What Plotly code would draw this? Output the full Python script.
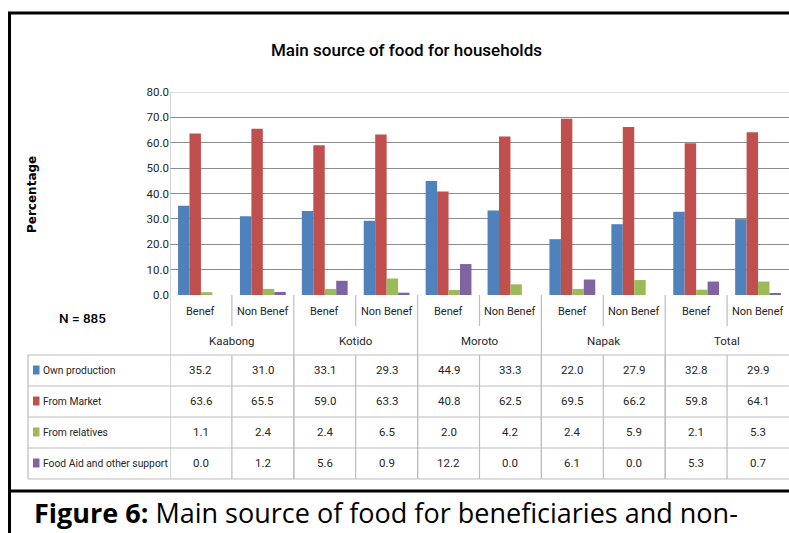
import plotly.graph_objects as go

# ---- data -------------------------------------------------------------
districts = ["Kaabong", "Kotido", "Moroto", "Napak", "Total"]
groups = ["Benef", "Non Benef"]
series_names = ["Own production", "From Market", "From relatives",
                "Food Aid and other support"]
own_production = [35.2, 31.0, 33.1, 29.3, 44.9, 33.3, 22.0, 27.9, 32.8, 29.9]
from_market = [63.6, 65.5, 59.0, 63.3, 40.8, 62.5, 69.5, 66.2, 59.8, 64.1]
from_relatives = [1.1, 2.4, 2.4, 6.5, 2.0, 4.2, 2.4, 5.9, 2.1, 5.3]
food_aid = [0.0, 1.2, 5.6, 0.9, 12.2, 0.0, 6.1, 0.0, 5.3, 0.7]
y_ticks = [0, 10, 20, 30, 40, 50, 60, 70, 80]
sample_note = "N = 885"

series_values = [own_production, from_market, from_relatives, food_aid]
colors = ["#4F81BD", "#C0504D", "#9BBB59", "#8064A2"]

# ---- page geometry ----------------------------------------------------
W, H = 789, 533
FONT = "Roboto, Liberation Sans, sans-serif"
TXT = "#262626"


def X(px):
    return min(max(px / W, 0.0), 1.0)


def Y(py):
    return min(max(1 - py / H, 0.0), 1.0)


def label(x, y, text, size, xref="paper", xanchor="center", yanchor="middle",
          color=TXT, family=FONT, angle=0, weight="normal"):
    return dict(x=x, y=y, xref=xref, yref="paper", text=text, showarrow=False,
                xanchor=xanchor, yanchor=yanchor, textangle=angle,
                font=dict(family=family, size=size, color=color, weight=weight))


def hline(y, x0, x1, color, width):
    return dict(type="line", xref="paper", yref="paper", x0=x0, x1=x1,
                y0=y, y1=y, line=dict(color=color, width=width))


def vline_x(xd, y0, y1, color, width):
    return dict(type="line", xref="x", yref="paper", x0=xd, x1=xd,
                y0=y0, y1=y1, line=dict(color=color, width=width))


n_cols = len(districts) * len(groups)
col_pos = list(range(n_cols))
col_labels = [g for _ in districts for g in groups]

fig = go.Figure()
for name, vals, col in zip(series_names, series_values, colors):
    fig.add_trace(go.Bar(x=col_pos, y=vals, name=name, marker_color=col,
                         marker_line_width=0, showlegend=False))

shapes = []
annotations = []
grid_col = "#bdbdbd"

# outer frames (chart box and caption box)
shapes.append(hline(Y(13), X(8), 1, "black", 3))
shapes.append(dict(type="line", xref="paper", yref="paper", x0=X(9.5), x1=X(9.5),
                   y0=0, y1=Y(12), line=dict(color="black", width=3)))
shapes.append(hline(Y(491), X(8), 1, "black", 3))

# plot area top border
shapes.append(dict(type="line", xref="x", yref="y", x0=-0.5, x1=n_cols - 0.5,
                   y0=80, y1=80, line=dict(color="#d4d4d4", width=1.5)))
# value axis line continues down through the table
shapes.append(vline_x(-0.5, Y(479), Y(92), grid_col, 1.2))

for i in range(1, n_cols):
    xb = i - 0.5
    if i % 2 == 1:
        # separator between Benef / Non Benef labels
        shapes.append(vline_x(xb, Y(326), Y(295), grid_col, 1.2))
    else:
        # separator between districts
        shapes.append(vline_x(xb, Y(479), Y(295), grid_col, 1.2))
    shapes.append(vline_x(xb, Y(479), Y(355), grid_col, 1.2))

# table body rows
for ry in [355, 386, 417, 448, 479]:
    shapes.append(hline(Y(ry), X(28), 1, grid_col, 1.2))
shapes.append(dict(type="line", xref="paper", yref="paper", x0=X(28), x1=X(28),
                   y0=Y(479), y1=Y(355), line=dict(color=grid_col, width=1.2)))

# category and district labels
for i, lab in enumerate(col_labels):
    annotations.append(label(i, Y(311), lab, 11, xref="x"))
for k, d in enumerate(districts):
    annotations.append(label(2 * k + 0.5, Y(341), d, 11.5, xref="x"))

# legend keys + values
row_centers = [370, 401, 432, 463]
for name, vals, col, ry in zip(series_names, series_values, colors, row_centers):
    shapes.append(dict(type="rect", xref="paper", yref="paper", x0=X(33), x1=X(39.5),
                       y0=Y(ry + 4.5), y1=Y(ry - 4.5), fillcolor=col, line=dict(width=0)))
    annotations.append(label(X(41), Y(ry), name, 10.3, xanchor="left"))
    for i, v in enumerate(vals):
        annotations.append(label(i, Y(ry), f"{v:.1f}", 11.5, xref="x"))

annotations.append(label(X(82), Y(318), sample_note, 13.5, color="black", weight=500))
annotations.append(label(X(32), Y(194), "<b>Percentage</b>", 12, color="black",
                         family="DejaVu Sans", angle=-90))
annotations.append(label(X(406), Y(50), "Main source of food for households", 17,
                         color="black", weight=500))
annotations.append(label(X(32), 0,
                         "<b>Figure 6:</b> Main source of food for beneficiaries and non-",
                         27, xanchor="left", yanchor="bottom", color="black",
                         family="Open Sans, Liberation Sans, sans-serif"))

fig.update_layout(
    width=W, height=H,
    margin=dict(l=0, r=0, t=0, b=0, pad=0, autoexpand=False),
    paper_bgcolor="white", plot_bgcolor="white",
    barmode="group", bargap=0.26, bargroupgap=0,
    shapes=shapes, annotations=annotations,
    xaxis=dict(domain=[X(170), 1], range=[-0.5, n_cols - 0.5], showticklabels=False,
               showgrid=False, zeroline=False, showline=False, fixedrange=True,
               automargin=False),
    yaxis=dict(domain=[Y(295), Y(92)], range=[0, 80], tickvals=y_ticks,
               tickformat=".1f", showgrid=True, gridcolor="#8c8c8c", gridwidth=1,
               zeroline=False, showline=False, ticks="", ticklen=0, automargin=False,
               tickfont=dict(family=FONT, size=11.5, color=TXT), fixedrange=True),
)

fig.write_html("out.html")
